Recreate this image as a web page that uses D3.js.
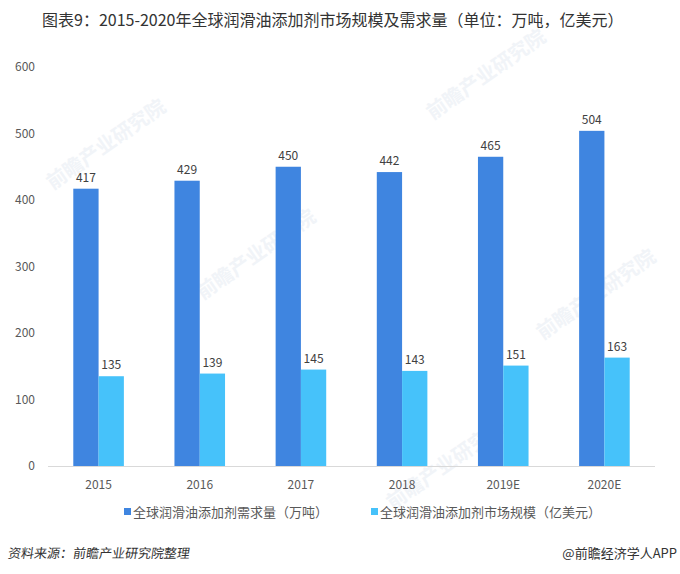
<!DOCTYPE html>
<meta charset="utf-8">
<script src="https://d3js.org/d3.v7.min.js"></script>
<style>
  body { margin: 0; background: #fff; }
  text { font-family: "Noto Sans CJK SC", "Open Sans", sans-serif; }
</style>
<div id="chart"></div>
<script>
// data
var years = ["2015", "2016", "2017", "2018", "2019E", "2020E"];
var demand = [417, 429, 450, 442, 465, 504];   // 万吨
var market = [135, 139, 145, 143, 151, 163];   // 亿美元
var seriesNames = ["全球润滑油添加剂需求量（万吨）", "全球润滑油添加剂市场规模（亿美元）"];
var yTicks = [0, 100, 200, 300, 400, 500, 600];

var W = 680, H = 574;
var colors = ["#3f85e0", "#46c2fa"];

var svg = d3.select("#chart").append("svg")
    .attr("width", W).attr("height", H);

// faint watermarks
var marks = [[110, 150], [260, 260], [490, 80], [600, 300], [450, 470]];
svg.selectAll(".wm").data(marks).enter().append("text")
    .attr("transform", d => "translate(" + d[0] + "," + d[1] + ") rotate(-35)")
    .attr("text-anchor", "middle")
    .attr("font-size", 20)
    .attr("font-weight", "bold")
    .attr("fill", "#f1f4f8")
    .text("前瞻产业研究院");

// title
svg.append("text")
    .attr("x", 42).attr("y", 26)
    .attr("font-size", 16)
    .attr("fill", "#333")
    .text("图表9：2015-2020年全球润滑油添加剂市场规模及需求量（单位：万吨，亿美元）");

var x = d3.scaleBand().domain(years).range([48, 655]).paddingInner(0.5).paddingOuter(0.25);
var xs = d3.scaleBand().domain([0, 1]).range([0, x.bandwidth()]);
var y = d3.scaleLinear().domain([0, 600]).range([466, 67]);

// y axis labels
svg.selectAll(".ytick").data(yTicks).enter().append("text")
    .attr("x", 35).attr("y", d => y(d) + 4)
    .attr("text-anchor", "end")
    .attr("font-size", 12)
    .attr("fill", "#595959")
    .text(d => d);

// baseline
svg.append("line")
    .attr("x1", 48).attr("x2", 655)
    .attr("y1", y(0) + 0.5).attr("y2", y(0) + 0.5)
    .attr("stroke", "#d9d9d9");

var all = [demand, market];
all.forEach(function(vals, s) {
  var g = svg.append("g");
  g.selectAll("rect").data(vals).enter().append("rect")
      .attr("x", (d, i) => x(years[i]) + xs(s))
      .attr("width", xs.bandwidth())
      .attr("y", d => y(d))
      .attr("height", d => y(0) - y(d))
      .attr("fill", colors[s]);
  g.selectAll("text").data(vals).enter().append("text")
      .attr("x", (d, i) => x(years[i]) + xs(s) + xs.bandwidth() / 2)
      .attr("y", d => y(d) - 7)
      .attr("text-anchor", "middle")
      .attr("font-size", 12)
      .attr("fill", "#404040")
      .text(d => d);
});

// x labels
svg.selectAll(".xl").data(years).enter().append("text")
    .attr("x", d => x(d) + x.bandwidth() / 2)
    .attr("y", 489)
    .attr("text-anchor", "middle")
    .attr("font-size", 12)
    .attr("fill", "#595959")
    .text(d => d);

// legend
var legX = [124, 371];
seriesNames.forEach(function(n, s) {
  svg.append("rect")
      .attr("x", legX[s]).attr("y", 508)
      .attr("width", 7).attr("height", 7)
      .attr("fill", colors[s]);
  svg.append("text")
      .attr("x", legX[s] + 9).attr("y", 517)
      .attr("font-size", 13)
      .attr("fill", "#595959")
      .text(n);
});

// footer
svg.append("text")
    .attr("x", 8).attr("y", 558)
    .attr("font-size", 13)
    .attr("fill", "#333")
    .attr("transform", "skewX(-8) translate(78,0)")
    .text("资料来源：前瞻产业研究院整理");
svg.append("text")
    .attr("x", 677).attr("y", 558)
    .attr("text-anchor", "end")
    .attr("font-size", 13)
    .attr("fill", "#333")
    .text("@前瞻经济学人APP");
</script>
